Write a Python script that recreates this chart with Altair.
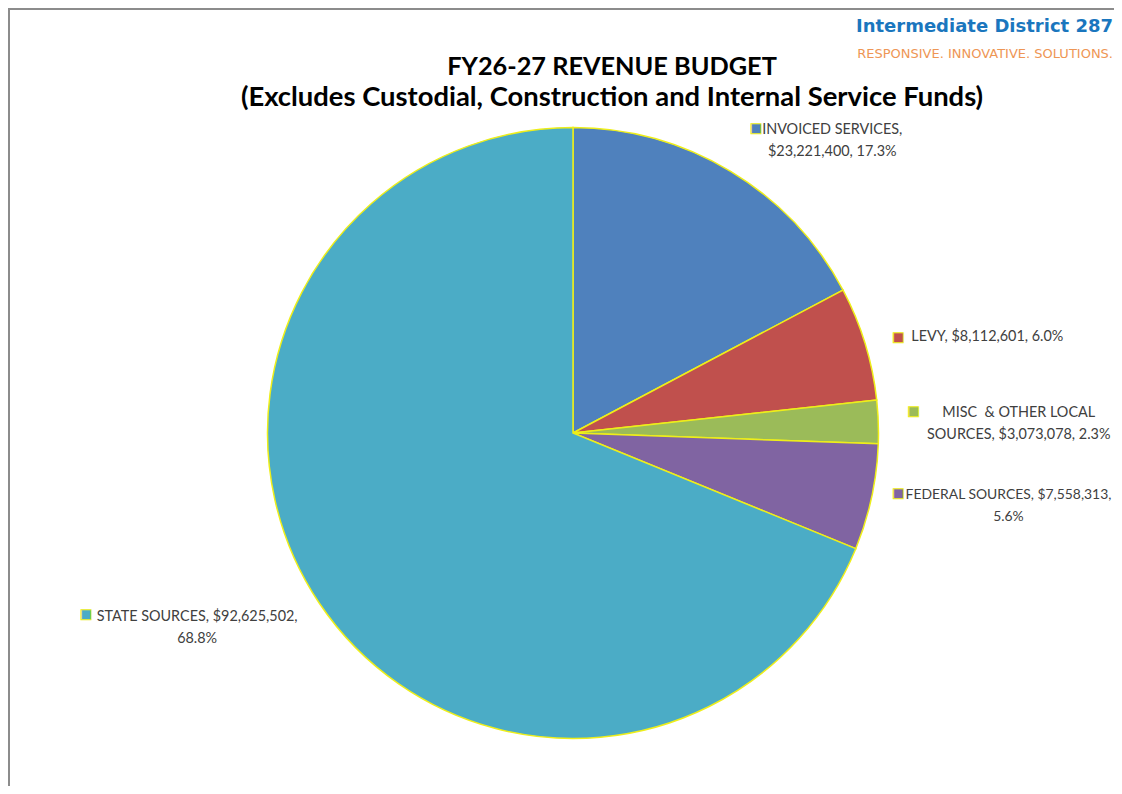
import altair as alt
import pandas as pd

# ---- data ----
categories = ["INVOICED SERVICES", "LEVY", "MISC\u00a0\u00a0& OTHER LOCAL SOURCES",
              "FEDERAL SOURCES", "STATE SOURCES"]
amounts = [23221400, 8112601, 3073078, 7558313, 92625502]
colors = ["#4F81BD", "#C0504D", "#9BBB59", "#8064A2", "#4BACC6"]
title_lines = ["FY26-27 REVENUE BUDGET",
               "(Excludes Custodial, Construction and Internal Service Funds)"]
logo_name = "Intermediate District 287"
logo_tag = "RESPONSIVE. INNOVATIVE. SOLUTIONS."

# ---- layout / style ----
wrap_widths = [26, 40, 26, 30, 30]
label_sizes = [14.4, 14.4, 14.4, 13.9, 14.4]
text_offsets = [(40, 61), (8, 29), (21, -5), (20, -27), (-23, -53)]
marker_offsets = [(-36, 59), (-81, 29), (-84, -7), (-90, -29), (-134, -56)]
W, H = 1106, 778
CX, CY, R, RL = 565, 425, 305.5, 425
SLICE_STROKE = "#EEEE1A"
LABEL_FONT = "Lato"

total = sum(amounts)


def wrap(s, w):
    lines, cur = [], ""
    for t in s.split(" "):
        cand = t if not cur else cur + " " + t
        if len(cand) <= w or not cur:
            cur = cand
        else:
            lines.append(cur)
            cur = t
    lines.append(cur)
    return "\n".join(lines)


labels = [wrap(f"{c}, ${a:,}, {a / total:.1%}", w)
          for c, a, w in zip(categories, amounts, wrap_widths)]

df = pd.DataFrame({"idx": list(range(len(categories))), "category": categories,
                   "amount": amounts, "label": labels})

color_scale = alt.Scale(domain=categories, range=colors)

pie = alt.Chart(df).mark_arc(radius=R, stroke=SLICE_STROKE, strokeWidth=1.5).encode(
    theta=alt.Theta("amount:Q", stack=True),
    order=alt.Order("idx:Q"),
    color=alt.Color("category:N", scale=color_scale, legend=None),
    x=alt.value(CX), y=alt.value(CY),
)

lab = alt.Chart(df).transform_joinaggregate(
    total="sum(amount)"
).transform_window(
    cum="sum(amount)", sort=[alt.SortField("idx")], frame=[None, 0]
).transform_calculate(
    mid="(datum.cum - datum.amount/2) / datum.total * 2 * PI"
)

layers = [pie]
for i in range(len(categories)):
    tdx, tdy = text_offsets[i]
    mdx, mdy = marker_offsets[i]
    sub = lab.transform_filter(alt.datum.idx == i)
    layers.append(sub.mark_text(
        radius=RL, dx=tdx, dy=tdy, align="center", baseline="middle",
        lineBreak="\n", lineHeight=22, font=LABEL_FONT, fontSize=label_sizes[i],
        color="#404040"
    ).encode(theta=alt.Theta("mid:Q", scale=None), text="label:N",
             x=alt.value(CX), y=alt.value(CY)))
    layers.append(sub.mark_text(
        radius=RL, dx=mdx, dy=mdy, align="center", baseline="middle",
        font="DejaVu Sans", fontSize=13, stroke=SLICE_STROKE, strokeWidth=1
    ).encode(theta=alt.Theta("mid:Q", scale=None), text=alt.value("\u25a0"),
             color=alt.Color("category:N", scale=color_scale, legend=None),
             x=alt.value(CX), y=alt.value(CY)))

one = pd.DataFrame({"k": [0]})
t1 = alt.Chart(one).mark_text(font=LABEL_FONT, fontWeight="bold", fontSize=25.3,
                              align="center", baseline="alphabetic", color="#000000").encode(
    text=alt.value(title_lines[0]), x=alt.value(604), y=alt.value(67))
t2 = alt.Chart(one).mark_text(font=LABEL_FONT, fontWeight="bold", fontSize=27.4,
                              align="center", baseline="alphabetic", color="#000000").encode(
    text=alt.value(title_lines[1]), x=alt.value(604), y=alt.value(98))
logo1 = alt.Chart(one).mark_text(font="DejaVu Sans", fontWeight="bold", fontSize=18,
                                 align="right", baseline="alphabetic", color="#1A76BE").encode(
    text=alt.value(logo_name), x=alt.value(1105), y=alt.value(24))
logo2 = alt.Chart(one).mark_text(font="DejaVu Sans", fontSize=13,
                                 align="right", baseline="alphabetic", color="#EE9655").encode(
    text=alt.value(logo_tag), x=alt.value(1105), y=alt.value(50))

border_left = alt.Chart(one).mark_rule(color="#8C8C8C", strokeWidth=2).encode(
    x=alt.value(1), y=alt.value(0), y2=alt.value(H))
border_top = alt.Chart(one).mark_rule(color="#8C8C8C", strokeWidth=2).encode(
    x=alt.value(0), x2=alt.value(W), y=alt.value(1))

chart = alt.layer(*layers, t1, t2, logo1, logo2, border_left, border_top).properties(
    width=W, height=H, autosize=alt.AutoSizeParams(type="none"), padding=0,
    background="#FFFFFF"
).configure_view(stroke=None)

chart.save("out.html", embed_options={"renderer": "svg", "actions": False})
